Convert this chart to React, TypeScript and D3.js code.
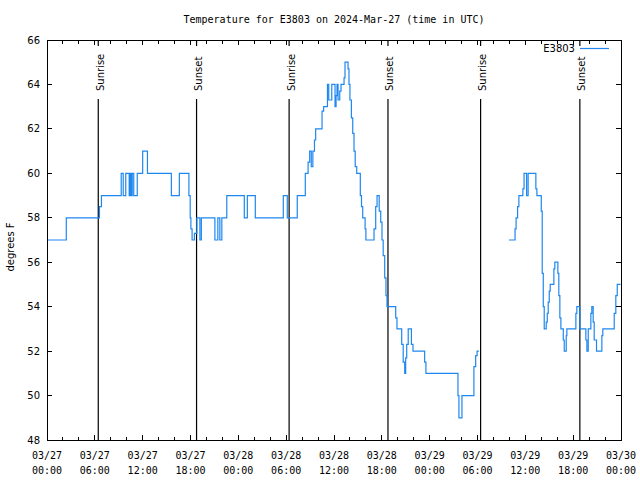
import React from "react";
import * as d3 from "d3";

// Hours since 2024-03-27 00:00 UTC
const hoursA = [0, 2.42, 6.58, 6.83, 9.31, 9.56, 9.88, 10.31, 10.44, 10.56, 10.69, 10.88, 11.32, 12.0, 12.6, 15.6, 16.6, 17.8, 17.96, 18.05, 18.2, 18.49, 18.8, 19.18, 19.36, 21.06, 21.43, 21.68, 21.93, 22.55, 24.75, 25.13, 26.13, 29.64, 30.14, 31.39, 32.4, 32.75, 32.95, 33.15, 33.35, 33.55, 33.7, 34.5, 34.7, 35.18, 35.34, 35.72, 36.13, 36.26, 36.38, 36.51, 36.72, 36.88, 37.26, 37.38, 37.76, 37.88, 38.0, 38.18, 38.35, 38.51, 38.66, 38.85, 39.3, 39.45, 39.6, 39.9, 40.0, 41.02, 41.23, 41.4, 41.67, 41.86, 42.02, 42.17, 42.36, 42.52, 42.65, 43.74, 43.9, 44.49, 44.68, 44.87, 44.99, 45.12, 45.31, 45.71, 45.91, 47.37, 47.53, 51.55, 51.67, 52.05, 53.55, 53.77, 53.95, 54.18];
const tempsA = [57, 58, 58.5, 59, 60, 59, 60, 59, 60, 59, 60, 59, 60, 61, 60, 59, 60, 59, 58, 57.5, 57, 57.3, 58, 57, 58, 57, 58, 57, 58, 59, 58, 59, 58, 59, 58, 59, 60, 60.5, 61, 60.3, 61, 61.5, 62, 62.8, 63, 64, 63.3, 64, 63, 63.5, 64, 63.3, 63.7, 64, 64.3, 65, 64.7, 64, 63.3, 62.5, 61.8, 61, 60.3, 60, 59, 58.5, 58, 57.5, 57, 57.5, 58.5, 59, 58.3, 57.8, 57, 56.3, 55.3, 54.5, 54, 53.5, 53, 52.3, 51.5, 51, 51.7, 52.3, 53, 52.3, 52, 51.5, 51, 50, 49, 50, 51.3, 51.8, 52, 52];

const hoursB = [57.94, 58.71, 58.84, 59.03, 59.19, 59.69, 59.84, 60.16, 60.35, 61.32, 61.45, 62.0, 62.12, 62.25, 62.37, 62.62, 62.75, 62.87, 63.0, 63.12, 63.58, 63.7, 64.08, 64.2, 64.33, 64.46, 64.76, 64.88, 65.13, 65.21, 66.34, 66.46, 66.84, 67.59, 67.72, 67.89, 68.22, 68.34, 68.51, 68.64, 68.93, 69.6, 69.72, 71.15, 71.35, 71.53, 71.94];
const tempsB = [57, 57.5, 58, 58.5, 59, 59.3, 60, 59, 60, 59.3, 59, 58.3, 55.5, 54, 53, 53.3, 53.7, 54.2, 54.7, 55, 55.7, 56, 55.5, 54.5, 53.5, 53, 52.5, 52, 52.7, 53, 53.7, 54, 53, 52.5, 52, 53, 53.7, 54, 53.3, 52.5, 52, 52.7, 53, 53.7, 54.5, 55, 55];

const sunHours = [6.43, 18.76, 30.37, 42.77, 54.39, 66.84];
const sunLabels = ["Sunrise", "Sunset", "Sunrise", "Sunset", "Sunrise", "Sunset"];

const yTicks = [48, 50, 52, 54, 56, 58, 60, 62, 64, 66];
const xMajorHours = [0, 6, 12, 18, 24, 30, 36, 42, 48, 54, 60, 66, 72];
const startMs = Date.UTC(2024, 2, 27, 0, 0, 0);

const W = 640, H = 480;
const L = 47, R = 621, T = 40, B = 440;
const LINE = "#1e88f0";

export default function App() {
  const x = d3.scaleLinear().domain([0, 72]).range([L, R]);
  const y = d3.scaleLinear().domain([48, 66]).range([B, T]);
  const fmtD = d3.utcFormat("%m/%d");
  const fmtT = d3.utcFormat("%H:%M");
  const line = d3.line<[number, number]>().x(d => x(d[0])).y(d => y(d[1])).curve(d3.curveStepAfter);
  const segA: [number, number][] = hoursA.map((h, i) => [h, tempsA[i]]);
  const segB: [number, number][] = hoursB.map((h, i) => [h, tempsB[i]]);
  const minor = d3.range(0, 73, 2);
  const sans = "DejaVu Sans, sans-serif";
  const mono = "DejaVu Sans Mono, monospace";
  return (
    <svg width={W} height={H} style={{ position: "absolute", left: 0, top: 0, background: "#fff" }}>
      <rect x={0} y={0} width={W} height={H} fill="#fff" />
      <text x={334} y={23} textAnchor="middle" fontFamily={mono} fontSize={10}>
        Temperature for E3803 on 2024-Mar-27 (time in UTC)
      </text>
      {/* sunrise/sunset lines */}
      {sunHours.map((h, i) => (
        <line key={"s" + i} x1={x(h)} x2={x(h)} y1={T} y2={B} stroke="#000" strokeWidth={1.2} />
      ))}
      {sunHours.map((h, i) => (
        <rect key={"m" + i} x={x(h) - 5} y={46} width={11} height={53} fill="#fff" />
      ))}
      {sunHours.map((h, i) => (
        <text key={"t" + i} transform={`translate(${x(h) + 5.5},91) rotate(-90)`} fontFamily={sans} fontSize={10}>
          {sunLabels[i]}
        </text>
      ))}
      {/* data */}
      <path d={line(segA) || ""} fill="none" stroke={LINE} strokeWidth={1.2} />
      <path d={line(segB) || ""} fill="none" stroke={LINE} strokeWidth={1.2} />
      {/* frame */}
      <rect x={L} y={T} width={R - L} height={B - T} fill="none" stroke="#000" strokeWidth={1} shapeRendering="crispEdges" />
      {/* x ticks */}
      {minor.map(h => {
        const len = h % 6 === 0 ? 5 : 3.5;
        return (
          <g key={"xt" + h} shapeRendering="crispEdges">
            <line x1={x(h)} x2={x(h)} y1={B} y2={B - len} stroke="#000" />
            <line x1={x(h)} x2={x(h)} y1={T} y2={T + len} stroke="#000" />
          </g>
        );
      })}
      {xMajorHours.map(h => {
        const d = new Date(startMs + h * 3600e3);
        return (
          <g key={"xl" + h} fontFamily={mono} fontSize={10} textAnchor="middle">
            <text x={x(h)} y={459}>{fmtD(d)}</text>
            <text x={x(h)} y={474}>{fmtT(d)}</text>
          </g>
        );
      })}
      {/* y ticks */}
      {yTicks.map(v => (
        <g key={"yt" + v}>
          <line x1={L} x2={L + 5} y1={y(v)} y2={y(v)} stroke="#000" shapeRendering="crispEdges" />
          <line x1={R} x2={R - 5} y1={y(v)} y2={y(v)} stroke="#000" shapeRendering="crispEdges" />
          <text x={40} y={y(v) + 3.5} textAnchor="end" fontFamily={sans} fontSize={10}>{v}</text>
        </g>
      ))}
      <text transform="translate(13.5,247) rotate(-90)" textAnchor="middle" fontFamily={sans} fontSize={10}>degrees F</text>
      {/* legend */}
      <text x={575} y={52} textAnchor="end" fontFamily={sans} fontSize={10}>E3803</text>
      <line x1={580} x2={609} y1={48.5} y2={48.5} stroke={LINE} strokeWidth={1.2} />
    </svg>
  );
}
